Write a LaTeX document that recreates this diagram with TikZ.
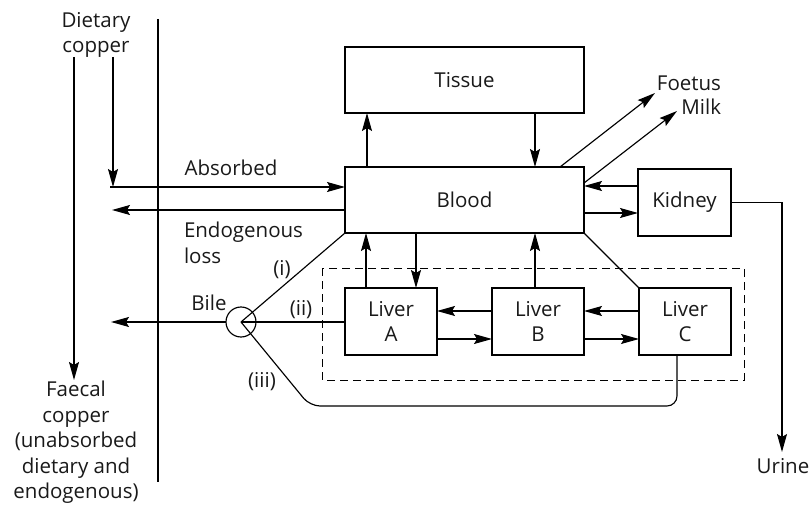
\documentclass[tikz,border=0pt]{standalone}
\usepackage{fontspec}
\setmainfont{Open Sans}
\usetikzlibrary{arrows.meta,calc}
\begin{document}
\begin{tikzpicture}[x=1pt,y=-1pt,
  line width=1.15pt,
  every node/.style={font=\fontsize{20.5}{25.5}\selectfont, inner sep=0pt, outer sep=0pt, text=black!90},
  box/.style={draw},
  big/.style={box, minimum width=239pt, minimum height=66pt},
  liver/.style={box, minimum width=92pt, minimum height=67pt, align=center},
  arr/.style={-{Stealth[length=18pt,width=10pt,inset=3pt]}}]
\useasboundingbox (0,0) rectangle (812,508);

% boxes
\node[big] (tissue) at (464.5,80) {Tissue};
\node[big] (blood) at (464.5,200) {Blood};
\node[box, minimum width=93pt, minimum height=67pt] (kidney) at (684.5,202.5) {Kidney};
\node[liver] (la) at (391,321.5) {Liver\\A};
\node[liver] (lb) at (538,321.5) {Liver\\B};
\node[liver] (lc) at (685,321.5) {Liver\\C};
\node[draw, circle, minimum size=30pt] (bile) at (241,322) {};

% labels
\node[anchor=north, align=center] (diet) at (96,12) {Dietary\\copper};
\node[anchor=north, align=center] (faecal) at (76,381) {Faecal\\copper\\(unabsorbed\\dietary and\\endogenous)};
\node[anchor=north west, align=left] (endo) at (184,222) {Endogenous\\loss};
\node[anchor=base] (absl) at (231,176) {Absorbed};
\node[anchor=base] (l1) at (282,276) {(i)};
\node[anchor=base] (bilel) at (209,310) {Bile};
\node[anchor=base] (l2) at (301,315) {(ii)};
\node[anchor=base] (l3) at (262,387) {(iii)};
\node[anchor=base east] (foetus) at (721,91) {Foetus};
\node[anchor=base east] (milk) at (721,115) {Milk};
\node[anchor=base] (urine) at (783,473) {Urine};

% coordinates
\coordinate (dtop) at (113,57);
\coordinate (dbot) at (113,187);
\coordinate (astart) at (110,187);
\coordinate (ftop) at (74,57);
\coordinate (ftip) at (74,380);
\coordinate (endoEnd) at (112,210);
\coordinate (bileEnd) at (111,322);
\coordinate (divT) at (158,19);
\coordinate (divB) at (158,482);
\coordinate (foetusTip) at (655,93);
\coordinate (milkTip) at (677,111);
\coordinate (urineTip) at (782,452);
\coordinate (bend) at (310,406);

% left side
\draw (divT) -- (divB);
\draw[arr] (dtop) -- (dbot);
\draw[arr] (ftop) -- (ftip);
\draw[arr] (astart) -- (blood.west |- astart);
\draw[arr] (blood.west |- endoEnd) -- (endoEnd);

% tissue - blood
\draw[arr] ($(blood.north west)+(22,0)$) -- ($(tissue.south west)+(22,0)$);
\draw[arr] ($(tissue.south west)+(190,0)$) -- ($(blood.north west)+(190,0)$);

% foetus, milk
\draw[arr] ($(blood.north west)+(215,0)$) -- (foetusTip);
\draw[arr] ($(blood.north east)+(0,16)$) -- (milkTip);

% kidney
\coordinate (k1) at ($(kidney.north west)+(0,17)$);
\coordinate (k2) at ($(kidney.north west)+(0,44)$);
\draw[arr] (k1) -- (blood.east |- k1);
\draw[arr] (blood.east |- k2) -- (k2);
\draw[arr] (kidney.east) -| (urineTip);

% bile
\draw (bile.center) -- (blood.south west);
\draw (bile.center) -- (bile.center -| la.west);
\draw[arr] (bile.west) -- (bileEnd);
\coordinate (c3) at ($(lc.south west)+(38,0)$);
\draw[rounded corners=10pt] (bile.center) -- (bend) -- (c3 |- bend) -- (c3);

% blood - liver
\draw (blood.south east) -- (lc.north west);
\coordinate (a1) at ($(la.north west)+(21,0)$);
\coordinate (a2) at ($(la.north west)+(71,0)$);
\coordinate (b1) at ($(lb.north west)+(43,0)$);
\draw[arr] (a1) -- (a1 |- blood.south);
\draw[arr] (a2 |- blood.south) -- (a2);
\draw[arr] (b1) -- (b1 |- blood.south);

% liver chain
\coordinate (bt) at ($(lb.north west)+(0,23)$);
\coordinate (bb) at ($(lb.north west)+(0,51)$);
\coordinate (ct) at ($(lc.north west)+(0,23)$);
\coordinate (cb) at ($(lc.north west)+(0,51)$);
\draw[arr] (bt) -- (la.east |- bt);
\draw[arr] (la.east |- bb) -- (bb);
\draw[arr] (ct) -- (lb.east |- ct);
\draw[arr] (lb.east |- cb) -- (cb);

% dashed liver group
\draw[line width=1pt, dash pattern=on 8pt off 5pt] (322,268) rectangle (744,380);
\end{tikzpicture}
\end{document}
